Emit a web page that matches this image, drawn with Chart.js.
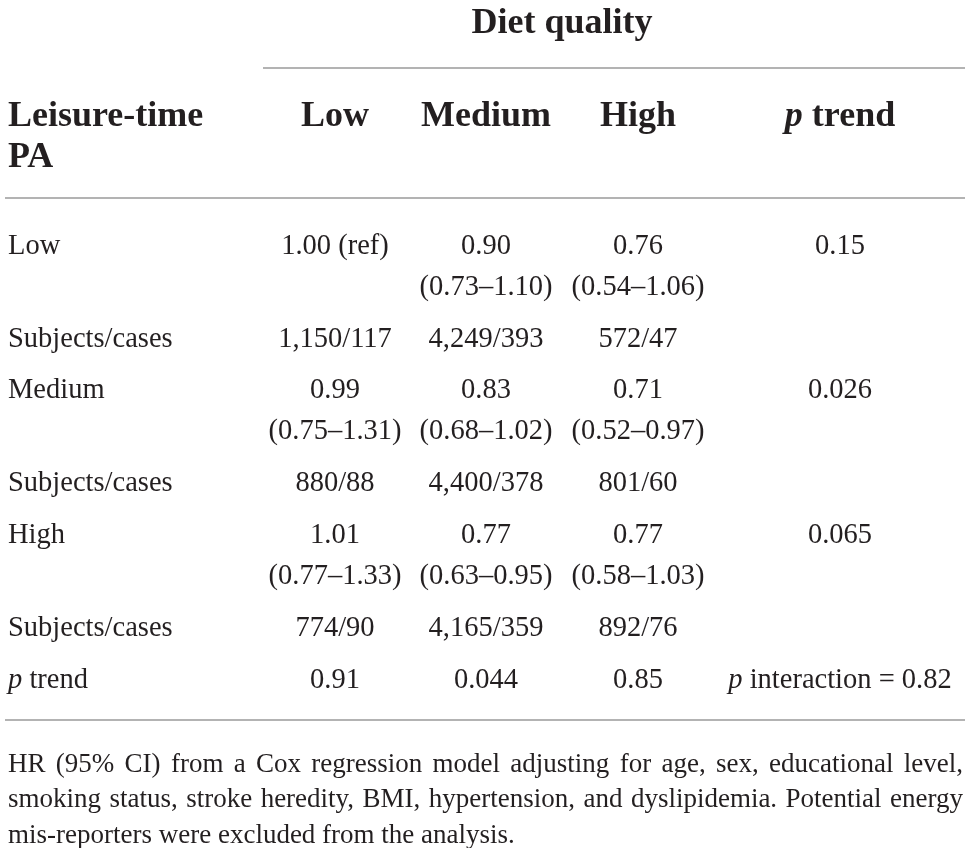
<!DOCTYPE html>
<html>
<head>
<meta charset="utf-8">
<script src="https://cdn.jsdelivr.net/npm/chart.js@4.4.1/dist/chart.umd.min.js"></script>
<style>
  html, body { margin: 0; padding: 0; background: #fff; }
  canvas { display: block; }
</style>
</head>
<body>
<canvas id="table" width="970" height="848"></canvas>
<script>
    // ---- table content ----
    const tableTitle = 'Diet quality';
    const rowHeadTitle = ['Leisure-time', 'PA'];
    const dietLevels = ['Low', 'Medium', 'High'];
    const paLevels = ['Low', 'Medium', 'High'];
    const subjectsLabel = 'Subjects/cases';

    const hrValues = [[1.00, 0.90, 0.76], [0.99, 0.83, 0.71], [1.01, 0.77, 0.77]];
    const ciLower = [[null, 0.73, 0.54], [0.75, 0.68, 0.52], [0.77, 0.63, 0.58]];
    const ciUpper = [[null, 1.10, 1.06], [1.31, 1.02, 0.97], [1.33, 0.95, 1.03]];
    const subjects = [[1150, 4249, 572], [880, 4400, 801], [774, 4165, 892]];
    const cases = [[117, 393, 47], [88, 378, 60], [90, 359, 76]];
    const pTrendByPA = ['0.15', '0.026', '0.065'];
    const pTrendByDiet = ['0.91', '0.044', '0.85'];
    const pInteraction = '0.82';

    const footnoteLines = [
      'HR (95% CI) from a Cox regression model adjusting for age, sex, educational level,',
      'smoking status, stroke heredity, BMI, hypertension, and dyslipidemia. Potential energy',
      'mis-reporters were excluded from the analysis.'
    ];

    // ---- layout (positions on the hidden linear scales) ----
    const layout = {
      labelX: 8,
      colX: [335, 486, 638, 840],
      titleX: 562, titleY: 24,
      headY: [117, 158],
      groupY: [247, 391, 536],
      ciDy: 41,
      subjDy: 93,
      pTrendY: 681,
      rules: [[263, 965, 68], [5, 965, 198], [5, 965, 720]],
      noteX: [8, 963],
      noteY: [765, 800, 836]
    };

    const FAMILY = "'Liberation Serif', 'DejaVu Serif', serif";
    const INK = '#231f20';
    const RULE = '#9a9a9a';
    const headFont = { size: 36, weight: 'bold' };
    const bodyFont = { size: 28.5, weight: 'normal' };
    const noteFont = { size: 27, weight: 'normal' };

    function fontStr(f, italic) {
      return `${italic ? 'italic ' : ''}${f.weight} ${f.size}px ${FAMILY}`;
    }

    const fmt2 = v => v.toFixed(2);
    const hrText = v => v === 1 ? '1.00 (ref)' : fmt2(v);
    const ciText = (lo, hi) => lo === null ? '' : `(${fmt2(lo)}–${fmt2(hi)})`;
    const count = v => v.toLocaleString('en-US');

    // a cell is a list of runs so the italic "p" can be mixed in
    const plain = t => [{ t }];
    const pRun = rest => [{ t: 'p', italic: true }, { t: rest }];

    // build text datasets
    function textSet(cells, font, align) {
      return {
        type: 'scatter',
        data: cells.map(c => ({ x: c.x, y: c.y })),
        texts: cells.map(c => c.runs),
        textFont: font,
        textAlign: align,
        pointRadius: 0,
        pointHoverRadius: 0
      };
    }

    const headCells = [{ x: layout.titleX, y: layout.titleY, runs: plain(tableTitle) }];
    rowHeadTitle.forEach((t, i) => headCells.push({ x: layout.labelX, y: layout.headY[i], runs: plain(t), left: true }));
    dietLevels.forEach((t, j) => headCells.push({ x: layout.colX[j], y: layout.headY[0], runs: plain(t) }));
    headCells.push({ x: layout.colX[3], y: layout.headY[0], runs: pRun(' trend') });

    const labelCells = [];
    const valueCells = [];
    paLevels.forEach((pa, i) => {
      const y0 = layout.groupY[i];
      labelCells.push({ x: layout.labelX, y: y0, runs: plain(pa) });
      labelCells.push({ x: layout.labelX, y: y0 + layout.subjDy, runs: plain(subjectsLabel) });
      for (let j = 0; j < 3; j++) {
        valueCells.push({ x: layout.colX[j], y: y0, runs: plain(hrText(hrValues[i][j])) });
        const ci = ciText(ciLower[i][j], ciUpper[i][j]);
        if (ci) valueCells.push({ x: layout.colX[j], y: y0 + layout.ciDy, runs: plain(ci) });
        valueCells.push({ x: layout.colX[j], y: y0 + layout.subjDy, runs: plain(count(subjects[i][j]) + '/' + count(cases[i][j])) });
      }
      valueCells.push({ x: layout.colX[3], y: y0, runs: plain(pTrendByPA[i]) });
    });
    labelCells.push({ x: layout.labelX, y: layout.pTrendY, runs: pRun(' trend') });
    pTrendByDiet.forEach((p, j) => valueCells.push({ x: layout.colX[j], y: layout.pTrendY, runs: plain(p) }));
    valueCells.push({ x: layout.colX[3], y: layout.pTrendY, runs: pRun(' interaction = ' + pInteraction) });

    const ruleSets = layout.rules.map(r => ({
      type: 'line',
      data: [{ x: r[0], y: r[2] }, { x: r[1], y: r[2] }],
      borderColor: RULE,
      borderWidth: 1.6,
      pointRadius: 0,
      showLine: true
    }));

    const noteSet = {
      type: 'scatter',
      data: footnoteLines.map((t, i) => ({ x: layout.noteX[0], y: layout.noteY[i] })),
      noteLines: footnoteLines,
      pointRadius: 0
    };

    const datasets = [
      textSet(headCells.filter(c => !c.left), headFont, 'center'),
      textSet(headCells.filter(c => c.left), headFont, 'left'),
      textSet(labelCells, bodyFont, 'left'),
      textSet(valueCells, bodyFont, 'center'),
      noteSet,
      ...ruleSets
    ];

    function drawRuns(ctx, runs, font, x, y, align) {
      let total = 0;
      const widths = runs.map(r => {
        ctx.font = fontStr(font, r.italic);
        const w = ctx.measureText(r.t).width;
        total += w;
        return w;
      });
      let cx = align === 'center' ? x - total / 2 : x;
      runs.forEach((r, k) => {
        ctx.font = fontStr(font, r.italic);
        ctx.fillText(r.t, cx, y);
        cx += widths[k];
      });
    }

    const tableText = {
      id: 'tableText',
      afterDatasetsDraw(chart) {
        const ctx = chart.ctx;
        ctx.save();
        ctx.fillStyle = INK;
        ctx.textBaseline = 'middle';
        ctx.textAlign = 'left';
        chart.data.datasets.forEach((ds, di) => {
          const meta = chart.getDatasetMeta(di);
          if (ds.texts) {
            meta.data.forEach((pt, k) => drawRuns(ctx, ds.texts[k], ds.textFont, pt.x, pt.y, ds.textAlign));
          }
          if (ds.noteLines) {
            const right = chart.scales.x.getPixelForValue(layout.noteX[1]);
            ctx.font = fontStr(noteFont, false);
            meta.data.forEach((pt, k) => {
              const line = ds.noteLines[k];
              if (k === ds.noteLines.length - 1) {
                ctx.fillText(line, pt.x, pt.y);
                return;
              }
              // justify the line between the two margins
              const words = line.split(' ');
              const wordW = words.map(w => ctx.measureText(w).width);
              const sum = wordW.reduce((a, b) => a + b, 0);
              const gap = (right - pt.x - sum) / (words.length - 1);
              let cx = pt.x;
              words.forEach((w, n) => {
                ctx.fillText(w, cx, pt.y);
                cx += wordW[n] + gap;
              });
            });
          }
        });
        ctx.restore();
      }
    };

    new Chart(document.getElementById('table'), {
      data: { datasets },
      options: {
        responsive: false,
        animation: false,
        events: [],
        layout: { padding: 0 },
        scales: {
          x: { type: 'linear', min: 0, max: 970, display: false },
          y: { type: 'linear', min: 0, max: 848, reverse: true, display: false }
        },
        plugins: { legend: { display: false }, tooltip: { enabled: false } }
      },
      plugins: [tableText]
    });
</script>
</body>
</html>
